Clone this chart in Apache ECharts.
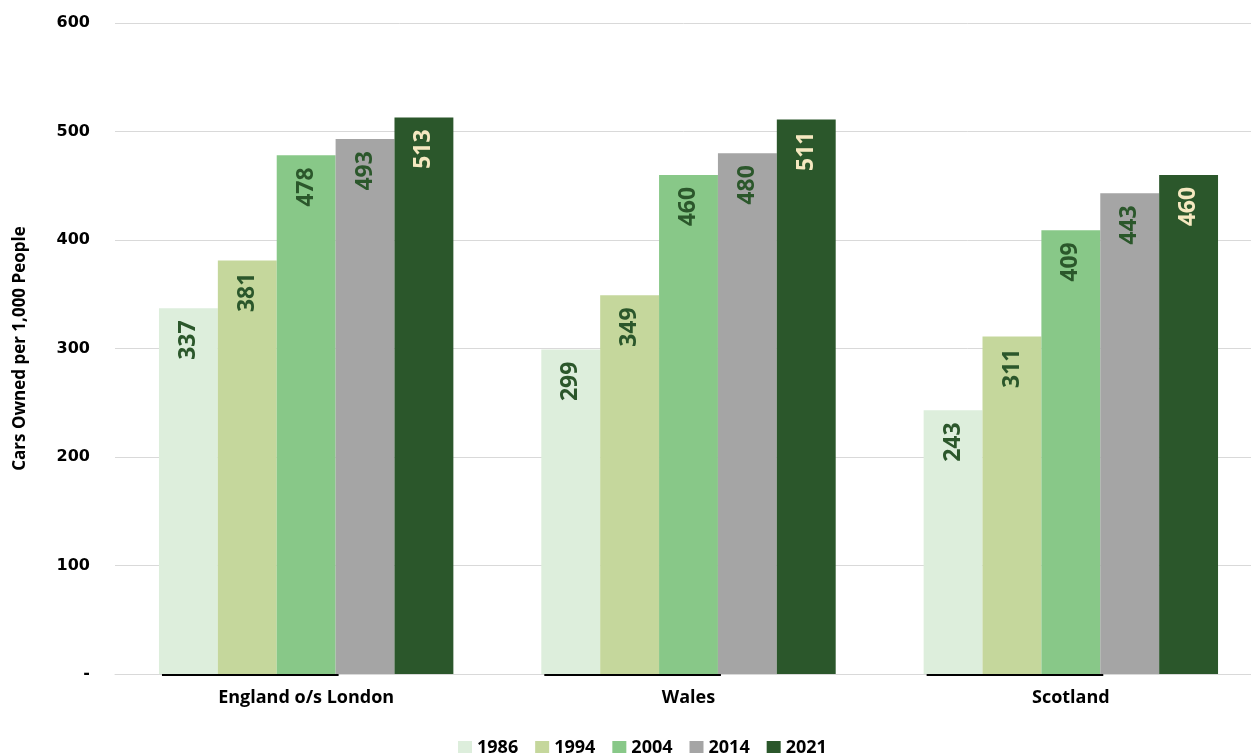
<!DOCTYPE html>
<html>
<head>
<meta charset="utf-8">
<script src="https://cdn.jsdelivr.net/npm/echarts@6/dist/echarts.min.js"></script>
<style>
  html, body { margin: 0; padding: 0; background: #ffffff; }
  #chart { width: 1251px; height: 753px; }
</style>
</head>
<body>
<div id="chart"></div>
<script>
// Car ownership per 1,000 people by nation and year
const regions = ['England o/s London', 'Wales', 'Scotland'];
const years = ['1986', '1994', '2004', '2014', '2021'];
const cars1986 = [337, 299, 243];
const cars1994 = [381, 349, 311];
const cars2004 = [478, 460, 409];
const cars2014 = [493, 480, 443];
const cars2021 = [513, 511, 460];
const yTicks = [0, 100, 200, 300, 400, 500, 600];

const seriesValues = [cars1986, cars1994, cars2004, cars2014, cars2021];
const colors = ['#ddeedc', '#c5d79c', '#88c888', '#a5a5a5', '#2b572b'];
const labelColors = ['#2b572b', '#2b572b', '#2b572b', '#2b572b', '#f5e8c0'];
const BAR_FRAC = 0.154;

const chart = echarts.init(document.getElementById('chart'));

const barSeries = years.map((yr, i) => ({
  name: yr,
  type: 'bar',
  data: seriesValues[i],
  barWidth: (BAR_FRAC * 100) + '%',
  barGap: '0%',
  itemStyle: { color: colors[i] },
  label: {
    show: true,
    position: 'insideTop',
    rotate: 90,
    align: 'right',
    verticalAlign: 'middle',
    distance: 12,
    color: labelColors[i],
    fontFamily: 'Open Sans',
    fontWeight: 'bold',
    fontSize: 23
  }
}));

// Dark baseline segment drawn under the first three bars of each group
const baseline = {
  type: 'custom',
  silent: true,
  z: 5,
  data: regions.map((r, i) => [i]),
  renderItem: function (params, api) {
    const c = api.coord([api.value(0), 0]);
    const band = api.size([1, 0])[0];
    const bw = band * BAR_FRAC;
    const x0 = c[0] - 2.5 * bw + 3;
    return {
      type: 'line',
      shape: { x1: x0, y1: c[1] + 1, x2: x0 + 3 * bw, y2: c[1] + 1 },
      style: { stroke: '#000000', lineWidth: 2 }
    };
  }
};

chart.setOption({
  animation: false,
  backgroundColor: '#ffffff',
  grid: { left: 115, right: -11, top: 23, bottom: 79, outerBoundsMode: 'none', containLabel: false },
  legend: {
    data: years,
    top: 734,
    left: 453,
    itemWidth: 14,
    itemHeight: 14,
    itemGap: 17,
    icon: 'rect',
    textStyle: { fontFamily: 'Open Sans', fontWeight: 'bold', fontSize: 18, color: '#000' }
  },
  xAxis: {
    type: 'category',
    data: regions,
    axisTick: { show: false },
    axisLine: { lineStyle: { color: '#d9d9d9', width: 1 } },
    axisLabel: {
      margin: 15,
      fontFamily: 'Open Sans',
      fontWeight: 'bold',
      fontSize: 18,
      color: '#000'
    }
  },
  yAxis: {
    type: 'value',
    min: yTicks[0],
    max: yTicks[yTicks.length - 1],
    interval: 100,
    name: 'Cars Owned per 1,000 People',
    nameLocation: 'middle',
    nameGap: 86,
    nameTextStyle: { fontFamily: 'Open Sans', fontWeight: 'bold', fontSize: 17, color: '#000' },
    axisLine: { show: false },
    axisTick: { show: false },
    splitLine: { lineStyle: { color: '#d9d9d9', width: 1 } },
    axisLabel: {
      margin: 25,
      fontFamily: 'DejaVu Sans',
      fontWeight: 'bold',
      fontSize: 16,
      color: '#000',
      formatter: v => (v === 0 ? '-' : String(v))
    }
  },
  series: barSeries.concat([baseline])
});
</script>
</body>
</html>
